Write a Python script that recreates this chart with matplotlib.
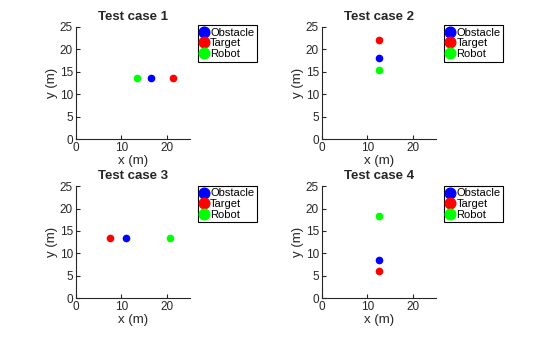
import matplotlib.pyplot as plt

plt.rcParams['font.family'] = ['Liberation Sans', 'DejaVu Sans']

titles = ['Test case 1', 'Test case 2', 'Test case 3', 'Test case 4']
obstacle_x = [16.5, 12.5, 11.0, 12.5]
obstacle_y = [13.5, 18.0, 13.5, 8.5]
target_x = [21.3, 12.5, 7.5, 12.5]
target_y = [13.5, 22.0, 13.5, 6.0]
robot_x = [13.5, 12.5, 20.7, 12.5]
robot_y = [13.5, 15.3, 13.5, 18.3]

axis_color = '#262626'

fig = plt.figure(figsize=(5.6, 3.37), dpi=100)
lefts = [0.135, 0.5745, 0.135, 0.5745]
bottoms = [0.5875, 0.5875, 0.1148, 0.1148]
leg_x = [0.3536, 0.793, 0.3536, 0.793]
leg_y = [0.926, 0.926, 0.449, 0.449]

for i in range(4):
    ax = fig.add_axes([lefts[i], bottoms[i], 0.2036, 0.333])
    ax.plot(obstacle_x[i], obstacle_y[i], 'o', color='#0000ff', ms=4.5, label='Obstacle')
    ax.plot(target_x[i], target_y[i], 'o', color='#ff0000', ms=4.5, label='Target')
    ax.plot(robot_x[i], robot_y[i], 'o', color='#00ff00', ms=4.5, label='Robot')
    ax.set_xlim(0, 25)
    ax.set_ylim(0, 25)
    ax.set_xticks([0, 10, 20])
    ax.set_yticks([0, 5, 10, 15, 20, 25])
    ax.spines['top'].set_visible(False)
    ax.spines['right'].set_visible(False)
    for s in ['left', 'bottom']:
        ax.spines[s].set_color(axis_color)
        ax.spines[s].set_linewidth(0.8)
    ax.tick_params(direction='in', length=3, width=0.8, colors=axis_color,
                   labelsize=8.5, pad=2)
    ax.set_xlabel('x (m)', fontsize=9.5, color=axis_color, labelpad=1)
    ax.set_ylabel('y (m)', fontsize=9.5, color=axis_color, labelpad=1)
    ax.set_title(titles[i], fontsize=9.5, fontweight='bold', color=axis_color, pad=5)
    leg = ax.legend(loc='upper left', bbox_to_anchor=(leg_x[i], leg_y[i]),
                    bbox_transform=fig.transFigure, fontsize=8, markerscale=1.7,
                    handlelength=0.6, handletextpad=0.25, borderpad=0.25,
                    labelspacing=0.05, borderaxespad=0, fancybox=False,
                    framealpha=1, edgecolor='black')
    leg.get_frame().set_linewidth(0.8)

fig.savefig('out.png', dpi=100)
